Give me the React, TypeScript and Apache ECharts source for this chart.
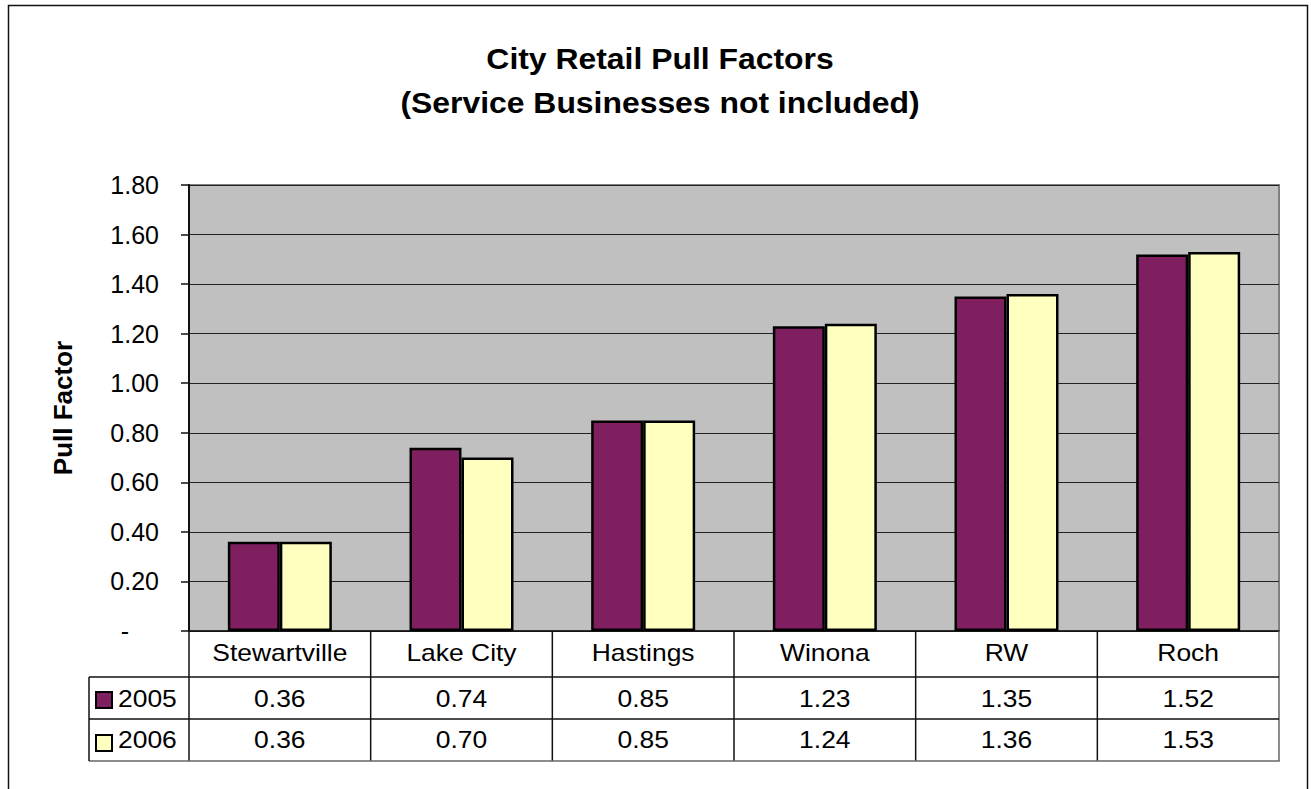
import React, { useEffect, useRef } from 'react';
import * as echarts from 'echarts';

const categories = ['Stewartville', 'Lake City', 'Hastings', 'Winona', 'RW', 'Roch'];
const seriesNames = ['2005', '2006'];
const values2005 = [0.36, 0.74, 0.85, 1.23, 1.35, 1.52];
const values2006 = [0.36, 0.70, 0.85, 1.24, 1.36, 1.53];
const titleLines = ['City Retail Pull Factors', '(Service Businesses not included)'];
const yAxisTitle = 'Pull Factor';
const yMin = 0;
const yMax = 1.8;
const yStep = 0.2;

const COLORS = ['#7F1F5F', '#FFFFC0'];
const FONT = '"Liberation Sans", Arial, Helvetica, sans-serif';

export default function App() {
  const ref = useRef<HTMLDivElement>(null);
  useEffect(() => {
    document.body.style.margin = '0';
    if (!ref.current) return;
    const chart = echarts.init(ref.current, undefined, { renderer: 'svg' });

    const GL = 189, GT = 185, GW = 1090, GH = 446;
    const GB = GT + GH;
    const row1 = 677, row2 = 719, row3 = 761;
    const tableLeft = 89;
    const colW = GW / categories.length;
    const SX = 1.15;

    const graphics: any[] = [];
    // outer border
    graphics.push({
      type: 'rect', shape: { x: 8.5, y: 5.5, width: 1299, height: 820 },
      style: { fill: 'none', stroke: '#111', lineWidth: 1.5 }, silent: true, z: 0,
    });
    // title
    titleLines.forEach((t, i) => {
      graphics.push({
        type: 'text', x: 660, y: i === 0 ? 59 : 103, scaleX: 1.1,
        style: { text: t, x: 0, y: 0, fill: '#000', font: `bold 29px ${FONT}`, align: 'center', verticalAlign: 'middle' },
        z: 10,
      });
    });
    // y axis title
    graphics.push({
      type: 'text', x: 63, y: 408, rotation: Math.PI / 2,
      style: { text: yAxisTitle, x: 0, y: 0, fill: '#000', font: `bold 26px ${FONT}`, align: 'center', verticalAlign: 'middle' },
      z: 10,
    });
    // table lines
    const line = (x1: number, y1: number, x2: number, y2: number, stroke: string, w = 1.5) =>
      graphics.push({ type: 'line', shape: { x1, y1, x2, y2 }, style: { stroke, lineWidth: w }, silent: true, z: 5 });
    for (let k = 0; k <= categories.length; k++) {
      const x = GL + k * colW;
      line(x, GB, x, row3, k === categories.length ? '#666' : '#111');
    }
    line(tableLeft, row1, GL + GW, row1, '#111');
    line(tableLeft, row2, GL + GW, row2, '#111');
    line(tableLeft, row3, GL + GW + 0.75, row3, '#666');
    line(tableLeft, row1, tableLeft, row3, '#111');

    const txt = (s: string, x: number, y: number, align = 'center') =>
      graphics.push({
        type: 'text', x, y, scaleX: SX,
        style: { text: s, x: 0, y: 0, fill: '#000', font: `23px ${FONT}`, align, verticalAlign: 'middle' },
        z: 10,
      });
    const rows = [values2005, values2006];
    categories.forEach((c, i) => {
      const cx = GL + (i + 0.5) * colW;
      txt(c, cx, 653);
      rows.forEach((vals, r) => txt(vals[i].toFixed(2), cx, r === 0 ? 699 : 740));
    });
    // legend keys
    seriesNames.forEach((n, r) => {
      const cy = r === 0 ? 700 : 743;
      graphics.push({
        type: 'rect', shape: { x: 96, y: cy - 8, width: 16, height: 16 },
        style: { fill: COLORS[r], stroke: '#000', lineWidth: 2 }, z: 10,
      });
      txt(n, 118, r === 0 ? 699 : 740, 'left');
    });

    const option: any = {
      animation: false,
      backgroundColor: '#fff',
      grid: {
        left: GL, top: GT, width: GW, height: GH, show: true,
        backgroundColor: '#C0C0C0', borderColor: '#808080', borderWidth: 2,
      },
      xAxis: {
        type: 'category', data: categories,
        axisLine: { show: true, lineStyle: { color: '#111', width: 1.5 } },
        axisTick: { show: false }, axisLabel: { show: false }, splitLine: { show: false },
      },
      yAxis: {
        type: 'value', min: yMin, max: yMax, interval: yStep,
        axisLine: { show: true, lineStyle: { color: '#111', width: 2 } },
        axisTick: { show: true, length: 8, lineStyle: { color: '#111', width: 1.5 } },
        axisLabel: {
          margin: 30, color: '#000', fontSize: 25, fontFamily: FONT,
          formatter: (v: number) => (Math.abs(v) < 1e-9 ? '{z|-}' : v.toFixed(2)),
          rich: { z: { fontSize: 25, fontFamily: FONT, color: '#000', padding: [0, 30, 0, 0] } },
        },
        splitLine: { show: true, lineStyle: { color: '#222', width: 1.2 } },
      },
      series: [
        {
          name: seriesNames[0], type: 'bar', data: values2005, barWidth: 52, barGap: '0%',
          itemStyle: { color: COLORS[0], borderColor: '#000', borderWidth: 2.5 },
        },
        {
          name: seriesNames[1], type: 'bar', data: values2006, barWidth: 52, barGap: '0%',
          itemStyle: { color: COLORS[1], borderColor: '#000', borderWidth: 2.5 },
        },
      ],
      graphic: graphics,
    };
    chart.setOption(option);
    return () => chart.dispose();
  }, []);
  return <div ref={ref} style={{ width: 1311, height: 789 }} />;
}
